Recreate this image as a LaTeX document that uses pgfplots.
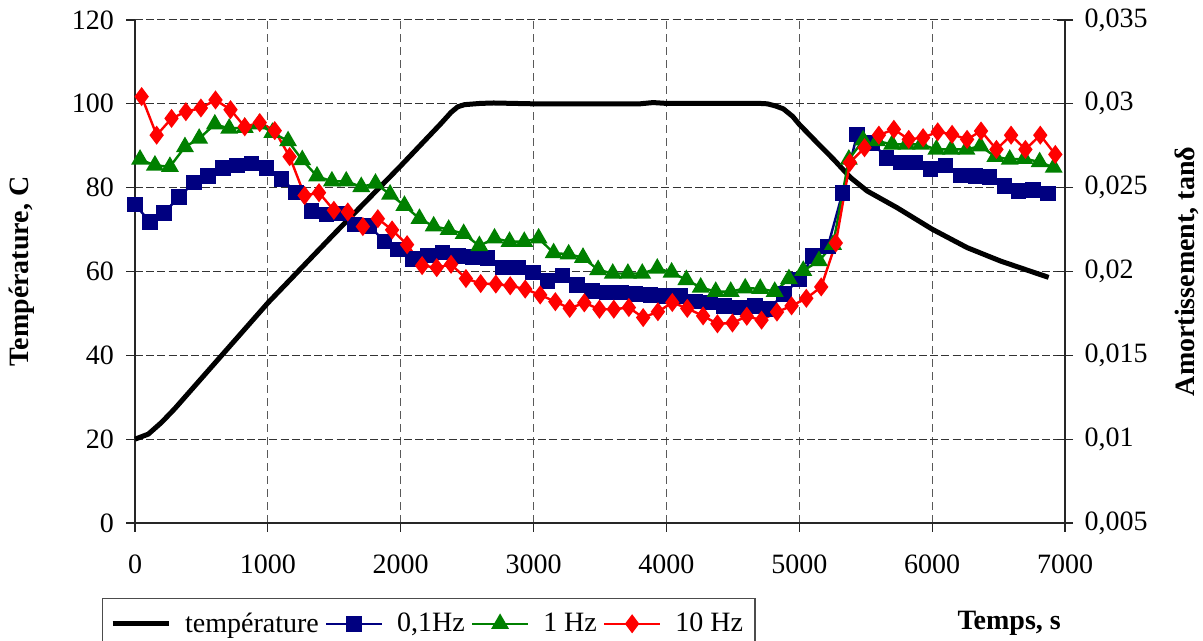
\documentclass[border=0pt]{standalone}
\usepackage{fontspec}
\setmainfont{Liberation Serif}
\usepackage{pgfplots}
\pgfplotsset{compat=1.18}
\definecolor{cblue}{RGB}{0,0,128}
\definecolor{cgreen}{RGB}{0,128,0}
\definecolor{cred}{RGB}{255,0,0}
\begin{document}
\begin{tikzpicture}
\useasboundingbox (0,0) rectangle (601.5pt,320.5pt);
\pgfplotsset{
  every axis/.append style={
    at={(67.5pt,59pt)}, anchor=south west, scale only axis,
    width=465pt, height=251.5pt, xmin=0, xmax=7000,
    clip=false,
    /pgf/number format/assume math mode=true,
    tick label style={font=\fontsize{14}{16}\selectfont, text=black},
    label style={font=\fontsize{14}{16}\selectfont\bfseries},
    axis line style={black!85, line width=0.6pt},
    tick style={black!85, line width=0.6pt},
  }
}
\begin{axis}[
  ymin=0, ymax=120,
  axis x line*=bottom, axis y line*=left,
  xtick pos=left, ytick pos=left,
  xtick={0,1000,...,7000}, ytick={0,20,...,120},
  /pgf/number format/1000 sep={},
  tick align=outside, major tick length=4.5pt,
  grid=major,
  major x grid style={black!65, line width=0.5pt, dash pattern=on 4pt off 2.5pt},
  major y grid style={black!80, line width=0.5pt, dash pattern=on 4pt off 1.6pt},
  xticklabel style={yshift=-8pt},
  yticklabel style={xshift=-2.5pt},
  xlabel={Temps, s},
  xlabel style={at={(axis description cs:0.94,-0.199)}, anchor=center},
  ylabel={Température, C},
  ylabel style={at={(axis description cs:-0.1215,0.5)}, anchor=center},
]
\addplot[black, line width=2.5pt, line join=round] coordinates {
(0,20)(100,21.2)(200,24)(300,27.3)(1000,52.5)(1500,69)(2000,85.2)(2300,95.2)(2380,98)(2430,99.3)(2480,99.8)(2600,100.1)(2700,100.2)(3000,100)(3800,100)(3900,100.3)(4000,100.1)(4700,100.1)(4760,100)(4820,99.5)(4880,98.8)(4950,97)(5000,95.1)(5135,90.7)(5260,86.7)(5386,82.4)(5511,79.2)(5737,75.2)(6000,70.1)(6263,65.7)(6514,62.5)(6764,59.8)(6877,58.6)
};
\end{axis}
\begin{axis}[
  ymin=0.005, ymax=0.035,
  axis x line=none, axis y line*=right, ytick pos=right,
  ytick={0.005,0.01,0.015,0.02,0.025,0.03,0.035},
  yticklabels={{0,005},{0,01},{0,015},{0,02},{0,025},{0,03},{0,035}},
  scaled y ticks=false,
  tick align=center, major tick length=8pt,
  yticklabel style={xshift=2.3pt},
  ylabel={Amortissement, tanδ},
  ylabel style={at={(axis description cs:1.131,0.5)}, anchor=center},
  legend style={at={(axis description cs:-0.036,-0.149)}, anchor=north west,
    legend columns=4, draw=black!70, line width=0.6pt,
    font=\fontsize{14}{16}\selectfont, inner xsep=4pt, inner ysep=5pt,
    /tikz/every even column/.append style={column sep=1pt},
    /tikz/every odd column/.append style={column sep=5pt}},
]
\addlegendimage{black, line width=2.5pt, legend image code/.code={\draw[line width=2.5pt] (0pt,0pt) -- (28pt,0pt);}}
\addlegendentry{température}
\addplot[cblue, line width=1.2pt, mark=square*, mark size=3.3pt, mark options={solid, fill=cblue},
  legend image code/.code={\draw[mark repeat=2,mark phase=2] plot coordinates {(0pt,0pt)(14pt,0pt)(28pt,0pt)};}] coordinates {
(0,0.02400)(113,0.02295)(218,0.02350)(330,0.02443)(443,0.02530)(551,0.02568)(663,0.02618)(769,0.02633)(876,0.02643)(989,0.02618)(1102,0.02553)(1214,0.02470)(1327,0.02360)(1440,0.02340)(1545,0.02345)(1652,0.02280)(1765,0.02270)(1878,0.02180)(1978,0.02130)(2091,0.02073)(2203,0.02095)(2316,0.02113)(2429,0.02093)(2541,0.02085)(2654,0.02080)(2769,0.02025)(2882,0.02025)(2995,0.01995)(3106,0.01945)(3219,0.01975)(3327,0.01918)(3440,0.01885)(3548,0.01875)(3659,0.01875)(3767,0.01865)(3881,0.01860)(3994,0.01855)(4107,0.01855)(4220,0.01820)(4328,0.01815)(4434,0.01795)(4555,0.01785)(4665,0.01793)(4772,0.01778)(4885,0.01865)(4997,0.01953)(5105,0.02093)(5215,0.02150)(5325,0.02468)(5436,0.02818)(5549,0.02768)(5657,0.02678)(5767,0.02650)(5875,0.02650)(5987,0.02610)(6100,0.02633)(6213,0.02573)(6326,0.02570)(6433,0.02563)(6544,0.02510)(6651,0.02480)(6759,0.02485)(6872,0.02465)
};
\addlegendentry{0,1Hz}
\addplot[cgreen, line width=1.2pt, mark=triangle*, mark size=4pt, mark options={solid, fill=cgreen},
  legend image code/.code={\draw[mark repeat=2,mark phase=2] plot coordinates {(0pt,0pt)(14pt,0pt)(28pt,0pt)};}] coordinates {
(38,0.02668)(150,0.02633)(263,0.02625)(376,0.02743)(483,0.02793)(601,0.02878)(709,0.02853)(826,0.02858)(934,0.02878)(1034,0.02828)(1152,0.02778)(1259,0.02665)(1370,0.02568)(1482,0.02538)(1590,0.02538)(1703,0.02505)(1810,0.02525)(1920,0.02460)(2028,0.02393)(2141,0.02315)(2248,0.02270)(2361,0.02250)(2474,0.02225)(2592,0.02153)(2706,0.02198)(2819,0.02178)(2930,0.02178)(3038,0.02198)(3151,0.02110)(3264,0.02103)(3372,0.02083)(3486,0.02010)(3596,0.01988)(3710,0.01988)(3818,0.01988)(3931,0.02018)(4039,0.01995)(4150,0.01950)(4258,0.01905)(4371,0.01880)(4484,0.01880)(4593,0.01900)(4706,0.01898)(4815,0.01880)(4922,0.01955)(5030,0.02005)(5148,0.02063)(5254,0.02160)(5373,0.02668)(5481,0.02783)(5586,0.02778)(5699,0.02758)(5807,0.02758)(5917,0.02758)(6032,0.02728)(6143,0.02728)(6258,0.02728)(6363,0.02748)(6476,0.02685)(6584,0.02668)(6694,0.02673)(6809,0.02653)(6915,0.02620)
};
\addlegendentry{1 Hz}
\addplot[cred, line width=1.2pt, mark=diamond*, mark size=3.8pt, mark options={solid, fill=cred},
  legend image code/.code={\draw[mark repeat=2,mark phase=2] plot coordinates {(0pt,0pt)(14pt,0pt)(28pt,0pt)};}] coordinates {
(50,0.03043)(163,0.02813)(275,0.02913)(383,0.02953)(496,0.02975)(606,0.03023)(719,0.02965)(826,0.02863)(939,0.02888)(1052,0.02840)(1164,0.02685)(1277,0.02453)(1385,0.02470)(1497,0.02365)(1602,0.02355)(1715,0.02268)(1828,0.02315)(1935,0.02248)(2048,0.02160)(2161,0.02035)(2271,0.02023)(2379,0.02043)(2491,0.01958)(2602,0.01928)(2716,0.01925)(2824,0.01915)(2937,0.01895)(3050,0.01860)(3164,0.01820)(3272,0.01780)(3382,0.01813)(3496,0.01775)(3604,0.01775)(3717,0.01785)(3825,0.01725)(3936,0.01760)(4044,0.01815)(4157,0.01780)(4276,0.01735)(4384,0.01688)(4497,0.01693)(4605,0.01733)(4716,0.01710)(4832,0.01758)(4942,0.01795)(5053,0.01840)(5165,0.01908)(5275,0.02170)(5381,0.02650)(5491,0.02738)(5599,0.02813)(5712,0.02848)(5824,0.02788)(5932,0.02798)(6042,0.02833)(6150,0.02818)(6263,0.02788)(6368,0.02838)(6484,0.02728)(6594,0.02813)(6702,0.02728)(6814,0.02813)(6927,0.02698)
};
\addlegendentry{10 Hz}
\end{axis}
\end{tikzpicture}
\end{document}
